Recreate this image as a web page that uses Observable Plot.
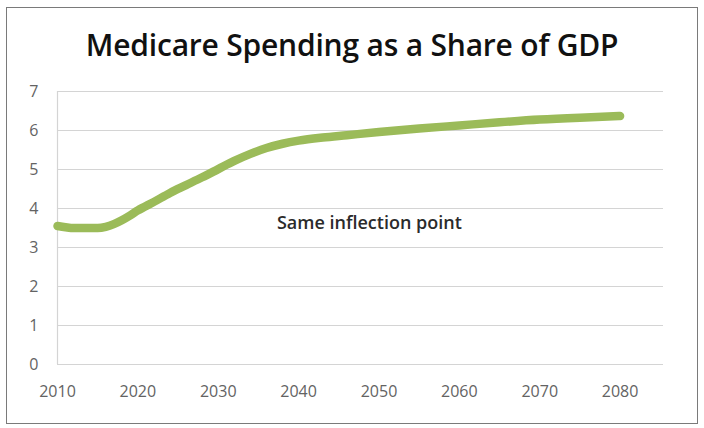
<!DOCTYPE html>
<html><head><meta charset="utf-8">
<script src="https://cdn.jsdelivr.net/npm/d3@7"></script>
<script src="https://cdn.jsdelivr.net/npm/@observablehq/plot@0.6"></script>
<style>
body{margin:0;background:#fff;}
#wrap{position:relative;width:704px;height:428px;overflow:hidden;}
#frame{position:absolute;left:6px;top:7px;width:690px;height:415px;border:1.5px solid #7a7a7a;}
#title{position:absolute;left:0;top:23px;width:704px;text-align:center;font-family:"Open Sans",sans-serif;font-size:30px;line-height:44px;font-weight:600;letter-spacing:-0.2px;color:#111;}
#chart{position:absolute;left:0;top:80px;}
</style></head>
<body><div id="wrap"><div id="frame"></div><div id="title">Medicare Spending as a Share of GDP</div><div id="chart"></div></div>
<script>
const years = [2010,2011,2012,2013,2014,2015,2016,2017,2018,2019,2020,2022,2024,2026,2028,2030,2032,2034,2036,2038,2040,2043,2046,2050,2055,2060,2065,2070,2075,2080];
const values = [3.55,3.52,3.5,3.5,3.5,3.5,3.53,3.6,3.7,3.82,3.95,4.17,4.4,4.6,4.8,5.01,5.22,5.4,5.55,5.66,5.74,5.82,5.88,5.96,6.05,6.13,6.21,6.28,6.33,6.37];
const xTicks = [2010,2020,2030,2040,2050,2060,2070,2080];
const yTicks = [0,1,2,3,4,5,6,7];
const noteText = ["Same inflection point"];
const noteX = [2048.8];
const noteY = [3.63];

const data = years.map((y,i)=>({year:y, value:values[i]}));
const notes = noteText.map((t,i)=>({text:t, x:noteX[i], y:noteY[i]}));

const plot = Plot.plot({
  width:704, height:348,
  marginLeft:57, marginRight:41, marginTop:11, marginBottom:64,
  style:{fontFamily:"Open Sans, sans-serif", fontSize:"16px", color:"#636363", background:"transparent"},
  x:{domain:[2010,2085.4], label:null},
  y:{domain:[0,7], label:null},
  marks:[
    Plot.gridY(yTicks, {stroke:"#d4d4d4", strokeOpacity:1, strokeWidth:1.2}),
    Plot.ruleX([2010], {stroke:"#d4d4d4", strokeWidth:1.2}),
    Plot.axisX({ticks:xTicks, tickFormat:d=>String(d), tickSize:0, tickPadding:21, fontSize:16}),
    Plot.axisY({ticks:yTicks, tickFormat:d=>String(d), tickSize:0, tickPadding:19, fontSize:16}),
    Plot.line(data, {x:"year", y:"value", stroke:"#9bbb59", strokeWidth:8.5, curve:"monotone-x", strokeLinecap:"round", strokeLinejoin:"round"}),
    Plot.text(notes, {x:"x", y:"y", text:"text", fontSize:18, fill:"#2b2b2b", fontWeight:600})
  ]
});
document.getElementById("chart").appendChild(plot);
</script></body></html>
